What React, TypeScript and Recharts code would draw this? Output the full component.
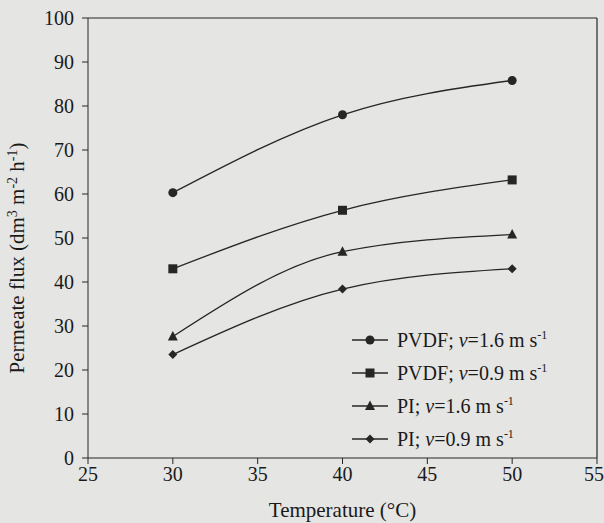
import React from "react"
import { LineChart, Line, XAxis, YAxis, ReferenceLine, Label } from "recharts"

const temperatures = [30, 40, 50]
const pvdf16 = [60.3, 78, 85.8]
const pvdf09 = [43, 56.3, 63.2]
const pi16 = [27.6, 46.9, 50.8]
const pi09 = [23.5, 38.4, 43]

const xTicks = [25, 30, 35, 40, 45, 50, 55]
const yTicks = [0, 10, 20, 30, 40, 50, 60, 70, 80, 90, 100]

const FONT = "'Liberation Serif', 'Times New Roman', serif"
const INK = "#262626"

type Shape = "circle" | "square" | "triangle" | "diamond"

const series: { key: string; shape: Shape; material: string; speed: string }[] = [
  { key: "pvdf16", shape: "circle", material: "PVDF", speed: "1.6" },
  { key: "pvdf09", shape: "square", material: "PVDF", speed: "0.9" },
  { key: "pi16", shape: "triangle", material: "PI", speed: "1.6" },
  { key: "pi09", shape: "diamond", material: "PI", speed: "0.9" },
]

const data = temperatures.map((t, i) => ({
  t,
  pvdf16: pvdf16[i],
  pvdf09: pvdf09[i],
  pi16: pi16[i],
  pi09: pi09[i],
}))

function markerPath(shape: Shape, cx: number, cy: number) {
  switch (shape) {
    case "circle":
      return <circle cx={cx} cy={cy} r={4.5} fill={INK} />
    case "square":
      return <rect x={cx - 4.5} y={cy - 4.5} width={9} height={9} fill={INK} />
    case "triangle":
      return <polygon points={`${cx},${cy - 5.5} ${cx + 5},${cy + 4} ${cx - 5},${cy + 4}`} fill={INK} />
    default:
      return <polygon points={`${cx},${cy - 4.5} ${cx + 4.5},${cy} ${cx},${cy + 4.5} ${cx - 4.5},${cy}`} fill={INK} />
  }
}

const makeDot = (shape: Shape) => (props: any) => {
  const { cx, cy, index } = props
  return <g key={`${shape}-${index}`}>{markerPath(shape, cx, cy)}</g>
}

function LegendBox() {
  return (
    <div
      style={{
        position: "absolute",
        left: 352,
        top: 323,
        width: 240,
        fontFamily: FONT,
        fontSize: 20,
        color: "#1a1a1a",
      }}
    >
      {series.map((s) => (
        <div key={s.key} style={{ display: "flex", alignItems: "center", height: 33 }}>
          <svg width={38} height={14} style={{ marginRight: 7 }}>
            <line x1={0} y1={7} x2={36} y2={7} stroke={INK} strokeWidth={1.3} />
            {markerPath(s.shape, 18, 7)}
          </svg>
          <span style={{ whiteSpace: "nowrap" }}>
            {s.material}; <i>v</i>={s.speed} m s<sup style={{ fontSize: 12 }}>-1</sup>
          </span>
        </div>
      ))}
    </div>
  )
}

function YTitle(props: any) {
  const vb = props.viewBox || { x: 0, y: 18, width: 88, height: 440 }
  const cx = vb.x + 24
  const cy = vb.y + vb.height / 2 + 20
  return (
    <text
      x={cx}
      y={cy}
      transform={`rotate(-90 ${cx} ${cy})`}
      textAnchor="middle"
      fontFamily={FONT}
      fontSize={21}
      fill="#1a1a1a"
    >
      Permeate flux (dm
      <tspan fontSize={14} baselineShift="super">3</tspan>
      <tspan> m</tspan>
      <tspan fontSize={14} baselineShift="super">-2</tspan>
      <tspan> h</tspan>
      <tspan fontSize={14} baselineShift="super">-1</tspan>
      <tspan>)</tspan>
    </text>
  )
}

export default function App() {
  const tickStyle = { fontFamily: FONT, fontSize: 20, fill: "#1a1a1a" }
  return (
    <div style={{ position: "absolute", left: 0, top: 0, width: 604, height: 523, background: "#e5e5e3" }}>
      <LineChart width={604} height={523} data={data} margin={{ top: 18, right: 7, bottom: 0, left: 0 }}>
        <XAxis
          dataKey="t"
          type="number"
          domain={[25, 55]}
          ticks={xTicks}
          height={65}
          stroke={INK}
          tick={tickStyle}
          tickSize={6}
          tickMargin={3}
        >
          <Label
            value="Temperature (°C)"
            position="insideBottom"
            offset={6}
            style={{ fontFamily: FONT, fontSize: 21, fill: "#1a1a1a" }}
          />
        </XAxis>
        <YAxis
          type="number"
          domain={[0, 100]}
          ticks={yTicks}
          width={88}
          stroke={INK}
          tick={tickStyle}
          tickSize={6}
          tickMargin={8}
        >
          <Label content={<YTitle />} />
        </YAxis>
        <ReferenceLine y={100} stroke={INK} strokeWidth={1.2} />
        <ReferenceLine x={55} stroke={INK} strokeWidth={1.2} />
        {series.map((s) => (
          <Line
            key={s.key}
            dataKey={s.key}
            type="monotone"
            stroke={INK}
            strokeWidth={1.3}
            dot={makeDot(s.shape)}
            activeDot={false}
            isAnimationActive={false}
          />
        ))}
      </LineChart>
      <LegendBox />
    </div>
  )
}
